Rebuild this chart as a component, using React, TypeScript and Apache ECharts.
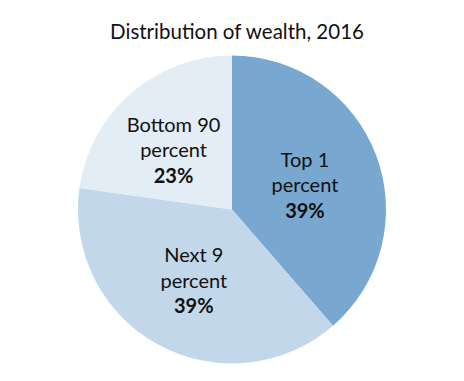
import React, { useEffect, useRef } from "react";
import * as echarts from "echarts";

const categories = ["Top 1\npercent", "Next 9\npercent", "Bottom 90\npercent"];
const shares = [39, 39, 23];
const colors = ["#78a8cf", "#c2d8ea", "#e3edf6"];
const titleText = "Distribution of wealth, 2016";

export default function App() {
  const ref = useRef<HTMLDivElement>(null);
  useEffect(() => {
    if (!ref.current) return;
    const chart = echarts.init(ref.current, null, { renderer: "svg" });
    chart.setOption({
      animation: false,
      title: {
        text: titleText,
        left: 232,
        textAlign: "center",
        top: 15,
        textStyle: { fontFamily: "Lato", fontSize: 20.5, fontWeight: "normal", color: "#111111" },
      },
      series: [
        {
          type: "pie",
          center: [232, 209.5],
          radius: 154,
          startAngle: 90,
          clockwise: true,
          data: categories.map((c, i) => ({
            name: c,
            value: shares[i],
            itemStyle: { color: colors[i] },
            label: i === 2 ? { offset: [-6, 0] } : i === 0 ? { offset: [-2, 3] } : {},
          })),
          label: {
            show: true,
            position: "inside",
            formatter: (p: any) => `{n|${p.name}}\n{v|${p.value}%}`,
            rich: {
              n: { fontFamily: "Lato", fontSize: 20, lineHeight: 25.5, color: "#111111", align: "center" },
              v: { fontFamily: "Lato", fontSize: 20, fontWeight: "bold", lineHeight: 25.5, color: "#111111", align: "center" },
            },
          },
          labelLine: { show: false },
          itemStyle: { borderWidth: 0 },
          emphasis: { disabled: true },
        },
      ],
    });
    return () => chart.dispose();
  }, []);
  return (
    <div
      ref={ref}
      style={{ position: "absolute", left: 0, top: 0, width: 464, height: 381 }}
    />
  );
}
